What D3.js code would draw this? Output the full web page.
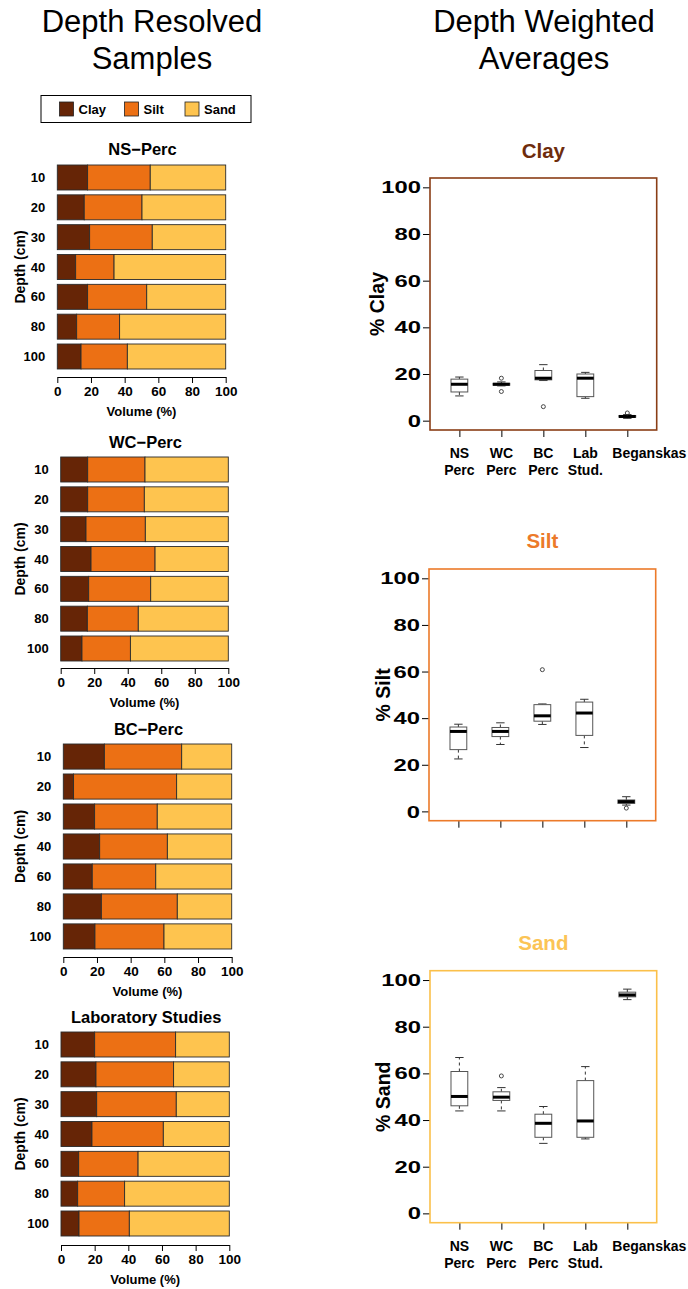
<!DOCTYPE html>
<html>
<head>
<meta charset="utf-8">
<script src="https://cdn.jsdelivr.net/npm/d3@7"></script>
<style>
  body { margin: 0; background: #fff; }
  svg { display: block; font-family: "Liberation Sans", Arial, sans-serif; }
  .bold { font-weight: bold; }
</style>
</head>
<body>
<script>
// profundidades (filas de cada panel)
const depths = ["10", "20", "30", "40", "60", "80", "100"];
const fractions = ["Clay", "Silt", "Sand"];

// valores (% volumen)
const nsClay = [18.0, 16.0, 19.2, 10.9, 18.0, 11.5, 14.1];
const nsSilt = [37.2, 34.3, 37.2, 22.8, 35.1, 25.5, 27.5];
const nsSand = [44.8, 49.7, 43.6, 66.3, 46.9, 63.0, 58.4];

const wcClay = [16.1, 16.1, 15.1, 18.1, 16.7, 15.9, 12.7];
const wcSilt = [34.2, 33.8, 35.4, 38.2, 37.0, 30.4, 28.9];
const wcSand = [49.7, 50.1, 49.5, 43.7, 46.3, 53.7, 58.4];

const bcClay = [24.4, 6.1, 18.6, 21.6, 17.2, 22.6, 18.8];
const bcSilt = [45.9, 61.2, 37.2, 40.2, 37.7, 45.1, 41.0];
const bcSand = [29.7, 32.7, 44.2, 38.2, 45.1, 32.3, 40.2];

const labClay = [20.0, 20.8, 21.2, 18.4, 10.5, 9.9, 10.7];
const labSilt = [48.1, 46.1, 47.3, 42.4, 35.3, 27.9, 29.9];
const labSand = [31.9, 33.1, 31.5, 39.2, 54.2, 62.2, 59.4];

// boxplots: [whisker bajo, Q1, mediana, Q3, whisker alto]
const groups = ["NS\nPerc", "WC\nPerc", "BC\nPerc", "Lab\nStud.", "Beganskas"];
const clayStats = [[10.6, 12.3, 15.6, 17.8, 18.7], [14.9, 15.2, 15.6, 16.0, 16.6], [17.2, 17.5, 18.2, 21.5, 24.0], [9.6, 10.3, 18.2, 20.0, 20.7], [1.0, 1.5, 1.8, 2.2, 2.6]];
const clayOut = [[], [18.2, 12.5], [6.0], [], [3.3]];
const siltStats = [[22.5, 26.5, 34.3, 36.2, 37.4], [28.7, 32.1, 34.3, 36.0, 38.0], [37.3, 38.7, 41.0, 45.8, 46.1], [27.4, 32.6, 42.2, 46.9, 48.1], [2.7, 3.4, 4.2, 4.9, 6.3]];
const siltOut = [[], [], [60.8], [], [1.4]];
const sandStats = [[43.9, 46.1, 50.1, 60.8, 66.8], [43.9, 48.4, 49.8, 52.1, 53.9], [30.0, 32.6, 38.6, 42.5, 45.8], [31.9, 32.6, 39.6, 56.9, 62.9], [91.6, 92.8, 93.6, 94.8, 96.1]];
const sandOut = [[], [58.9], [], [], []];

const volTicks = [0, 20, 40, 60, 80, 100];
const pctTicks = [0, 20, 40, 60, 80, 100];

const COLORS = { Clay: "#662506", Silt: "#ec7014", Sand: "#fec44f" };
const TITLE_COLORS = { Clay: "#6e2c0c", Silt: "#ec7a2a", Sand: "#fbc455" };
const FRAME_COLORS = { Clay: "#8a3e16", Silt: "#ec7a2a", Sand: "#fbc04a" };

// desplazamiento horizontal de las etiquetas de grupo (Beganskas va corrida)
const groupLabelShift = [0, 0, 0, 0, 22];

const W = 688, H = 1289;
const svg = d3.select("body").append("svg").attr("width", W).attr("height", H);
svg.append("rect").attr("width", W).attr("height", H).attr("fill", "#fff");

// titulos principales
function mainTitle(cx, lines) {
    lines.forEach((s, i) => {
        svg.append("text").attr("x", cx).attr("y", 32 + i * 37)
            .attr("text-anchor", "middle").attr("font-size", 31).text(s);
    });
}
mainTitle(152, ["Depth Resolved", "Samples"]);
mainTitle(544, ["Depth Weighted", "Averages"]);

// leyenda
const leg = svg.append("g");
leg.append("rect").attr("x", 41).attr("y", 95.5).attr("width", 210).attr("height", 27)
    .attr("fill", "none").attr("stroke", "#000").attr("stroke-width", 1);
const legX = [59.5, 124.5, 185];
fractions.forEach((f, i) => {
    leg.append("rect").attr("x", legX[i]).attr("y", 102).attr("width", 14).attr("height", 14)
        .attr("fill", COLORS[f]).attr("stroke", "#222").attr("stroke-width", 0.8);
    leg.append("text").attr("class", "bold").attr("x", legX[i] + 19).attr("y", 114)
        .attr("font-size", 13).text(f);
});

// paneles de barras apiladas
const barPanels = [
    { title: "NS\u2212Perc", clay: nsClay, silt: nsSilt, sand: nsSand, x0: 57.3, x1: 225.7, top: 165, bottom: 369, axisY: 377, titleY: 155 },
    { title: "WC\u2212Perc", clay: wcClay, silt: wcSilt, sand: wcSand, x0: 60.7, x1: 228.3, top: 457, bottom: 661, axisY: 668, titleY: 448 },
    { title: "BC\u2212Perc", clay: bcClay, silt: bcSilt, sand: bcSand, x0: 63.3, x1: 231.7, top: 744, bottom: 949, axisY: 957, titleY: 735 },
    { title: "Laboratory Studies", clay: labClay, silt: labSilt, sand: labSand, x0: 61, x1: 229.3, top: 1032, bottom: 1236, axisY: 1245, titleY: 1023 }
];

barPanels.forEach(p => {
    const g = svg.append("g");
    const x = d3.scaleLinear().domain([0, 100]).range([p.x0, p.x1]);
    const y = d3.scaleBand().domain(depths).range([p.top, p.bottom]).paddingInner(0.162).paddingOuter(0);

    const rows = depths.map((d, i) => ({ depth: d, Clay: p.clay[i], Silt: p.silt[i], Sand: p.sand[i] }));
    const stack = d3.stack().keys(fractions)(rows);

    g.selectAll("g.layer").data(stack).join("g")
        .attr("fill", s => COLORS[s.key])
        .selectAll("rect").data(s => s).join("rect")
        .attr("x", d => x(d[0]))
        .attr("y", d => y(d.data.depth))
        .attr("width", d => x(d[1]) - x(d[0]))
        .attr("height", y.bandwidth())
        .attr("stroke", "#2b2b2b").attr("stroke-width", 0.9);

    // etiquetas de profundidad
    g.selectAll("text.depth").data(depths).join("text")
        .attr("class", "bold").attr("x", p.x0 - 12)
        .attr("y", d => y(d) + y.bandwidth() / 2).attr("dy", "0.35em")
        .attr("text-anchor", "end").attr("font-size", 13).text(d => d);

    const ax = g.append("g").attr("transform", `translate(0,${p.axisY})`)
        .call(d3.axisBottom(x).tickValues(volTicks).tickSize(6).tickSizeOuter(0).tickPadding(3));
    ax.selectAll("path, line").attr("stroke", "#000").attr("stroke-width", 1);
    ax.selectAll("text").attr("class", "bold").attr("font-size", 13.5)
        .attr("font-family", "Liberation Sans, Arial, sans-serif").attr("fill", "#000");

    g.append("text").attr("class", "bold").attr("x", (p.x0 + p.x1) / 2).attr("y", p.axisY + 39)
        .attr("text-anchor", "middle").attr("font-size", 13).text("Volume (%)");

    g.append("text").attr("class", "bold").attr("x", (p.x0 + p.x1) / 2 + 1).attr("y", p.titleY)
        .attr("text-anchor", "middle").attr("font-size", 16.5).text(p.title);

    const cy = (p.top + p.bottom) / 2;
    g.append("text").attr("class", "bold")
        .attr("transform", `translate(20,${cy}) rotate(-90)`).attr("dy", "0.35em")
        .attr("text-anchor", "middle").attr("font-size", 14).text("Depth (cm)");
});

// boxplots
const boxPanels = [
    { key: "Clay", stats: clayStats, out: clayOut, L: 430, R: 656.7, T: 178, B: 430, titleY: 158, ylabX: 377, labels: true },
    { key: "Silt", stats: siltStats, out: siltOut, L: 429, R: 655.7, T: 569, B: 820.7, titleY: 548, ylabX: 383, labels: false },
    { key: "Sand", stats: sandStats, out: sandOut, L: 430, R: 656.7, T: 970.7, B: 1222.7, titleY: 950, ylabX: 383, labels: true }
];

boxPanels.forEach(p => {
    const g = svg.append("g");
    const x = d3.scaleLinear().domain([0.3, 5.7]).range([p.L, p.R]);
    const y = d3.scaleLinear().domain([-4, 104]).range([p.B, p.T]);
    const bw = x(1.4) - x(1);
    const cap = bw / 2;

    g.append("text").attr("class", "bold").attr("x", (p.L + p.R) / 2).attr("y", p.titleY)
        .attr("text-anchor", "middle").attr("font-size", 20.5)
        .attr("fill", TITLE_COLORS[p.key]).text(p.key);

    const ya = g.append("g").attr("transform", `translate(${p.L},0)`)
        .call(d3.axisLeft(y).tickValues(pctTicks).tickSize(7).tickSizeOuter(0).tickFormat(() => ""));
    ya.select("path").remove();
    ya.selectAll("line").attr("stroke", "#000");
    g.selectAll("text.yt").data(pctTicks).join("text")
        .attr("class", "bold")
        .attr("transform", d => `translate(${p.L - 9},${y(d)}) scale(1.4,1)`)
        .attr("dy", "0.36em").attr("text-anchor", "end").attr("font-size", 17).text(d => d);

    const xa = g.append("g").attr("transform", `translate(0,${p.B})`)
        .call(d3.axisBottom(x).tickValues([1, 2, 3, 4, 5]).tickSize(7).tickSizeOuter(0).tickFormat(() => ""));
    xa.select("path").remove();
    xa.selectAll("line").attr("stroke", "#000");

    g.append("text").attr("class", "bold")
        .attr("transform", `translate(${p.ylabX},${(p.T + p.B) / 2}) rotate(-90)`)
        .attr("dy", "0.35em").attr("text-anchor", "middle").attr("font-size", 19.5)
        .text("% " + p.key);

    p.stats.forEach((s, i) => {
        const cx = x(i + 1);
        const bg = g.append("g");
        // whiskers punteados
        bg.append("line").attr("x1", cx).attr("x2", cx).attr("y1", y(s[3])).attr("y2", y(s[4]))
            .attr("stroke", "#333").attr("stroke-dasharray", "3,3");
        bg.append("line").attr("x1", cx).attr("x2", cx).attr("y1", y(s[1])).attr("y2", y(s[0]))
            .attr("stroke", "#333").attr("stroke-dasharray", "3,3");
        [s[0], s[4]].forEach(v => {
            bg.append("line").attr("x1", cx - cap / 2).attr("x2", cx + cap / 2)
                .attr("y1", y(v)).attr("y2", y(v)).attr("stroke", "#333");
        });
        bg.append("rect").attr("x", cx - bw / 2).attr("y", y(s[3]))
            .attr("width", bw).attr("height", Math.max(y(s[1]) - y(s[3]), 0.5))
            .attr("fill", "#fff").attr("stroke", "#555").attr("stroke-width", 1);
        bg.append("line").attr("x1", cx - bw / 2).attr("x2", cx + bw / 2)
            .attr("y1", y(s[2])).attr("y2", y(s[2])).attr("stroke", "#000").attr("stroke-width", 3);
        p.out[i].forEach(v => {
            bg.append("circle").attr("cx", cx).attr("cy", y(v)).attr("r", 2)
                .attr("fill", "none").attr("stroke", "#333").attr("stroke-width", 0.9);
        });
    });

    g.append("rect").attr("x", p.L).attr("y", p.T).attr("width", p.R - p.L).attr("height", p.B - p.T)
        .attr("fill", "none").attr("stroke", FRAME_COLORS[p.key]).attr("stroke-width", 1.6);

    if (p.labels) {
        groups.forEach((lab, i) => {
            lab.split("\n").forEach((line, j) => {
                g.append("text").attr("class", "bold")
                    .attr("x", x(i + 1) + groupLabelShift[i]).attr("y", p.B + 28 + j * 17)
                    .attr("text-anchor", "middle").attr("font-size", 14).text(line);
            });
        });
    }
});
</script>
</body>
</html>
